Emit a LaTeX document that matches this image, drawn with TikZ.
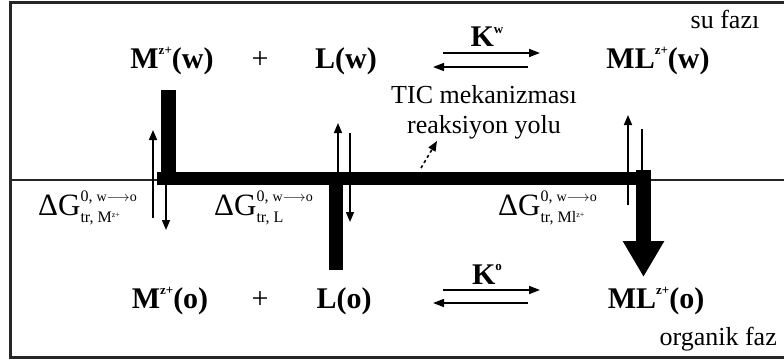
\documentclass[tikz,border=0pt]{standalone}
\usepackage{fontspec}
\setmainfont{Liberation Serif}
\usetikzlibrary{arrows.meta, positioning}
\newcommand{\zch}[1]{\raisebox{0.45em}{\fontsize{13}{13}\selectfont #1}}
\newcommand{\dgtr}[1]{{\fontsize{31}{31}\selectfont ΔG}%
  {\fontsize{16}{16}\selectfont\rlap{\raisebox{14pt}{0, {\fontsize{14}{14}\selectfont w$\longrightarrow$o}}}\raisebox{-7pt}{tr, #1}}}
\newcommand{\tinyz}{\raisebox{5pt}{\fontsize{8}{8}\selectfont z+}}
\tikzset{
  species/.style={font=\fontsize{30}{32}\selectfont\bfseries, inner sep=0pt, anchor=base},
  phase/.style={font=\fontsize{26}{30}\selectfont, inner sep=0pt, anchor=base},
  dglabel/.style={inner sep=0pt, anchor=base west},
  thinarrow/.style={-{Triangle[length=10pt,width=8pt]}, line width=1.6pt},
  eqarrow/.style={-{Triangle[length=11pt,width=8pt]}, line width=1.6pt},
  ticbar/.style={line width=14pt},
  phaseframe/.style={line width=3pt, draw=black!85}
}
\begin{document}
\begin{tikzpicture}[x=1pt, y=-1pt]
  \useasboundingbox (0,0) rectangle (784,361);
  % phases and interface
  \draw[phaseframe] (784,3) -- (10.5,3) -- (10.5,357) -- (784,357);
  \draw[line width=1.5pt, black!85] (10.5,180) -- (784,180);

  % species
  \node[species] (mw) at (172,68) {M\zch{z+}(w)};
  \node[species, font=\fontsize{30}{32}\selectfont] (pw) at (260,68) {+};
  \node[species] (lw) at (346,68) {L(w)};
  \node[species] (mlw) at (658,68) {ML\zch{z+}(w)};
  \node[species] (mo) at (170,308) {M\zch{z+}(o)};
  \node[species, font=\fontsize{30}{32}\selectfont] (po) at (260,308) {+};
  \node[species] (lo) at (344,308) {L(o)};
  \node[species] (mlo) at (656,308) {ML\zch{z+}(o)};
  \node[species] (kw) at (487,47) {K\zch{w}};
  \node[species] (ko) at (487,284) {K\zch{o}};

  % phase names
  \node[phase] (su) at (725,29) {su fazı};
  \node[phase, anchor=base east] (org) at (777,345) {organik faz};
  \node[phase, anchor=center, align=center] (tic) at (484,112) {TIC mekanizması\\reaksiyon yolu};

  % transfer energies
  \node[dglabel] (dgm) at (38,215) {\dgtr{M\tinyz}};
  \node[dglabel] (dgl) at (214,215) {\dgtr{L}};
  \node[dglabel] (dgml) at (498,215) {\dgtr{Ml\tinyz}};

  % equilibria
  \coordinate (kwa) at (443,53);  \coordinate (kwb) at (540,53);
  \coordinate (kwc) at (528,67);  \coordinate (kwd) at (433,67);
  \coordinate (koa) at (443,290); \coordinate (kob) at (540,290);
  \coordinate (koc) at (528,303); \coordinate (kod) at (433,303);
  \draw[eqarrow] (kwa) -- (kwb);
  \draw[eqarrow] (kwc) -- (kwd);
  \draw[eqarrow] (koa) -- (kob);
  \draw[eqarrow] (koc) -- (kod);

  % transfer arrows
  \draw[thinarrow] (153,218) coordinate (mup0) -- (153,130) coordinate (mup1);
  \draw[thinarrow] (166,185) coordinate (mdn0) -- (166,230) coordinate (mdn1);
  \draw[thinarrow] (338,172) coordinate (lup0) -- (338,123) coordinate (lup1);
  \draw[thinarrow] (350,133) coordinate (ldn0) -- (350,222) coordinate (ldn1);
  \draw[thinarrow] (628,205) coordinate (mlup0) -- (628,115) coordinate (mlup1);
  \draw[line width=1.6pt] (642,129) coordinate (mldn0) -- (642,172) coordinate (mldn1);
  \draw[thinarrow, dashed] (421,168) coordinate (tic0) -- (437,141) coordinate (tic1);

  % reaction path
  \coordinate (mtop) at (168.5,90);
  \coordinate (mbot) at (168.5,179);
  \coordinate (barw) at (157,178.5);
  \coordinate (bare) at (650,178.5);
  \coordinate (ltop) at (336,178);
  \coordinate (lbot) at (336,270);
  \coordinate (mltop) at (643.5,170);
  \coordinate (mlbot) at (643.5,277);
  \draw[ticbar, line width=15pt] (mtop) -- (mbot);
  \draw[ticbar, line width=13pt] (barw) -- (bare);
  \draw[ticbar] (ltop) -- (lbot);
  \draw[ticbar, line width=15pt, -{Triangle[length=36pt,width=39pt]}] (mltop) -- (mlbot);
\end{tikzpicture}
\end{document}
